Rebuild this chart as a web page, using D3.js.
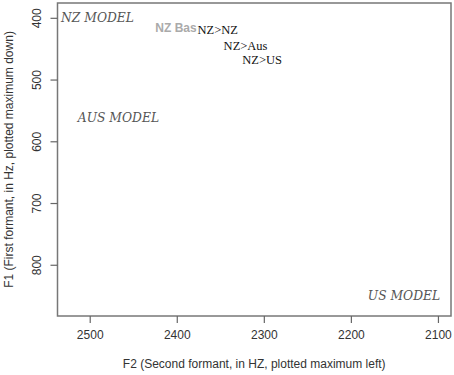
<!doctype html>
<html>
<head>
<meta charset="utf-8"/>
<script src="https://d3js.org/d3.v7.min.js"></script>
<style>
body{margin:0;background:#fff;}
</style>
</head>
<body>
<script>
var width=454, height=375;
var margin={left:57.5,top:3,right:3,bottom:59};

// tick values
var xTicks=[2500,2400,2300,2200,2100];
var yTicks=[400,500,600,700,800];

// model labels (italic serif)
var modelNames=["NZ MODEL","AUS MODEL","US MODEL"];
var modelF2=[2491,2467,2139];
var modelF1=[400,562,850];

// vowel labels
var baseName=["NZ Base"];
var baseF2=[2397];
var baseF1=[416];
var vowelNames=["NZ>NZ","NZ>Aus","NZ>US"];
var vowelF2=[2353,2321,2302];
var vowelF1=[419,445,468];

var svg=d3.select("body").append("svg").attr("width",width).attr("height",height);

var x=d3.scaleLinear().domain([2537,2085]).range([margin.left,width-margin.right]);
var y=d3.scaleLinear().domain([376,883]).range([margin.top,height-margin.bottom]);

svg.append("rect")
  .attr("x",x.range()[0]).attr("y",y.range()[0])
  .attr("width",x.range()[1]-x.range()[0]).attr("height",y.range()[1]-y.range()[0])
  .attr("fill","none").attr("stroke","#777").attr("stroke-width",1.5);

var xAxis=svg.append("g").attr("transform","translate(0,"+y.range()[1]+")")
  .call(d3.axisBottom(x).tickValues(xTicks).tickSize(7).tickPadding(7).tickFormat(d3.format("d")));
var yAxis=svg.append("g").attr("transform","translate("+x.range()[0]+",0)")
  .call(d3.axisLeft(y).tickValues(yTicks).tickSize(7).tickPadding(7).tickFormat(d3.format("d")));
[xAxis,yAxis].forEach(function(a){
  a.select(".domain").remove();
  a.selectAll(".tick line").attr("stroke","#666").attr("stroke-width",1.2);
  a.selectAll(".tick text").attr("fill","#333").style("font-family","Liberation Sans, Arial, sans-serif").style("font-size","12px");
});
// rotated y tick labels
yAxis.selectAll(".tick text")
  .attr("transform","rotate(-90,-20,0)").attr("x",-20).attr("y",0)
  .attr("dy","0.32em").attr("text-anchor","middle");

svg.append("text").attr("x",(x.range()[0]+x.range()[1])/2).attr("y",368)
  .attr("text-anchor","middle").attr("fill","#333")
  .style("font-family","Liberation Sans, Arial, sans-serif").style("font-size","12px")
  .text("F2 (Second formant, in HZ, plotted maximum left)");
svg.append("text").attr("transform","translate(13,"+((y.range()[0]+y.range()[1])/2)+") rotate(-90)")
  .attr("text-anchor","middle").attr("fill","#333")
  .style("font-family","Liberation Sans, Arial, sans-serif").style("font-size","12px")
  .text("F1 (First formant, in Hz, plotted maximum down)");

svg.selectAll(".model").data(modelNames).enter().append("text")
  .attr("class","model")
  .attr("x",function(d,i){return x(modelF2[i]);})
  .attr("y",function(d,i){return y(modelF1[i]);})
  .attr("dy","0.35em").attr("text-anchor","middle").attr("fill","#555")
  .style("font-family","DejaVu Serif, serif").style("font-style","italic").style("font-size","12.3px")
  .text(function(d){return d;});

svg.selectAll(".base").data(baseName).enter().append("text")
  .attr("x",function(d,i){return x(baseF2[i]);})
  .attr("y",function(d,i){return y(baseF1[i]);})
  .attr("dy","0.35em").attr("text-anchor","middle").attr("fill","#aaa")
  .style("font-family","Liberation Sans, Arial, sans-serif").style("font-weight","bold").style("font-size","12px")
  .text(function(d){return d;});

// NZ>NZ sits on a white box that hides the end of "NZ Base", as in the original
var vg=svg.selectAll(".vowel").data(vowelNames).enter().append("g");
vg.append("rect")
  .attr("x",function(d,i){return x(vowelF2[i])-21;})
  .attr("y",function(d,i){return y(vowelF1[i])-7;})
  .attr("width",42).attr("height",14).attr("fill",function(d,i){return i==0?"#fff":"none";});
vg.append("text")
  .attr("x",function(d,i){return x(vowelF2[i]);})
  .attr("y",function(d,i){return y(vowelF1[i]);})
  .attr("dy","0.35em").attr("text-anchor","middle").attr("fill","#111")
  .style("font-family","Liberation Serif, Times New Roman, serif").style("font-size","12.5px")
  .text(function(d){return d;});
</script>
</body>
</html>
